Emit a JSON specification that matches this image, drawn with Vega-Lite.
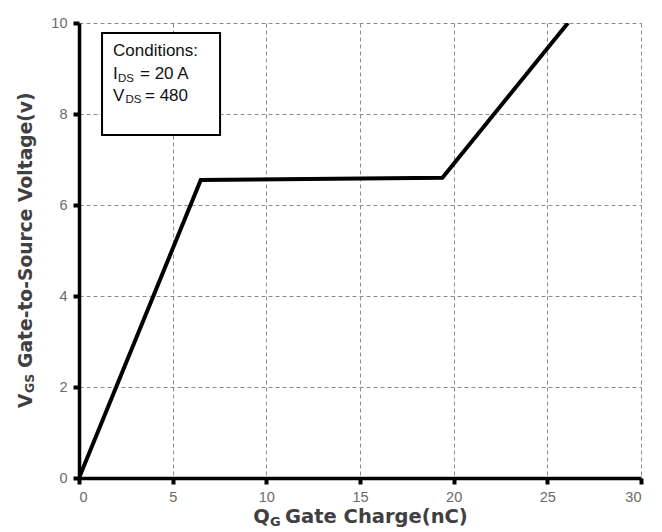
{
  "$schema": "https://vega.github.io/schema/vega-lite/v6.json",
  "autosize": {"type": "none"},
  "padding": {"left": 79, "top": 23, "right": 21, "bottom": 54},
  "width": 562,
  "height": 455,
  "background": "white",
  "config": {"view": {"stroke": null}},
  "encoding": {
    "x": {
      "field": "x", "type": "quantitative",
      "scale": {"domain": [0, 30], "nice": false, "zero": false},
      "axis": {
        "values": [0, 5, 10, 15, 20, 25, 30],
        "title": null,
        "grid": true, "gridDash": [4, 3], "gridColor": "#8c8c8c", "gridWidth": 1,
        "domainColor": "black", "domainWidth": 3.5,
        "tickColor": "black", "tickWidth": 4, "tickSize": 6,
        "labelFont": "Liberation Sans", "labelFontSize": 14.5, "labelColor": "#6a6a6a",
        "labelPadding": 6
      }
    },
    "y": {
      "field": "y", "type": "quantitative",
      "scale": {"domain": [0, 10], "nice": false, "zero": false},
      "axis": {
        "values": [0, 2, 4, 6, 8, 10],
        "title": null,
        "grid": true, "gridDash": [4, 3], "gridColor": "#8c8c8c", "gridWidth": 1,
        "domainColor": "black", "domainWidth": 3.5,
        "tickColor": "black", "tickWidth": 4, "tickSize": 6,
        "labelFont": "Liberation Sans", "labelFontSize": 14.5, "labelColor": "#6a6a6a",
        "labelPadding": 6
      }
    }
  },
  "layer": [
    {
      "data": {"values": [
        {"x": 0, "y": 0},
        {"x": 6.5, "y": 6.55},
        {"x": 19.4, "y": 6.6},
        {"x": 26.1, "y": 10}
      ]},
      "mark": {"type": "line", "color": "black", "strokeWidth": 4, "strokeJoin": "miter", "clip": true},
      "encoding": {}
    },
    {
      "data": {"values": [{"x": 1.23, "x2": 7.53, "y": 9.78, "y2": 7.54}]},
      "mark": {"type": "rect", "fill": "white", "stroke": "black", "strokeWidth": 2},
      "encoding": {"x2": {"field": "x2"}, "y2": {"field": "y2"}}
    },
    {
      "data": {"values": [
        {"t": "Conditions:", "x": 1.815, "y": 9.28},
        {"t": "I", "x": 1.815, "y": 8.77},
        {"t": "= 20 A", "x": 3.257, "y": 8.77},
        {"t": "V", "x": 1.815, "y": 8.29},
        {"t": "= 480", "x": 3.524, "y": 8.29}
      ]},
      "mark": {"type": "text", "font": "Liberation Sans", "fontSize": 17, "color": "#111111", "align": "left", "baseline": "alphabetic"},
      "encoding": {"text": {"field": "t"}}
    },
    {
      "data": {"values": [
        {"t": "DS", "x": 2.08, "y": 8.71},
        {"t": "DS", "x": 2.483, "y": 8.24}
      ]},
      "mark": {"type": "text", "font": "Liberation Sans", "fontSize": 11.5, "color": "#111111", "align": "left", "baseline": "alphabetic"},
      "encoding": {"text": {"field": "t"}}
    },
    {
      "data": {"values": [
        {"t": "Q", "x": 9.3, "y": -0.99},
        {"t": "Gate Charge(nC)", "x": 11.0, "y": -0.99}
      ]},
      "mark": {"type": "text", "font": "DejaVu Sans", "fontWeight": "bold", "fontSize": 19.5, "color": "#404040", "align": "left", "baseline": "alphabetic"},
      "encoding": {"text": {"field": "t"}}
    },
    {
      "data": {"values": [{"t": "G", "x": 10.2, "y": -1.055}]},
      "mark": {"type": "text", "font": "DejaVu Sans", "fontWeight": "bold", "fontSize": 13, "color": "#404040", "align": "left", "baseline": "alphabetic"},
      "encoding": {"text": {"field": "t"}}
    },
    {
      "data": {"values": [
        {"t": "V", "x": -2.51, "y": 1.54},
        {"t": "Gate-to-Source Voltage(v)", "x": -2.51, "y": 2.42}
      ]},
      "mark": {"type": "text", "font": "DejaVu Sans", "fontWeight": "bold", "fontSize": 18.7, "color": "#404040", "align": "left", "baseline": "alphabetic", "angle": 270},
      "encoding": {"text": {"field": "t"}}
    },
    {
      "data": {"values": [{"t": "GS", "x": -2.376, "y": 1.87}]},
      "mark": {"type": "text", "font": "DejaVu Sans", "fontWeight": "bold", "fontSize": 12.5, "color": "#404040", "align": "left", "baseline": "alphabetic", "angle": 270},
      "encoding": {"text": {"field": "t"}}
    }
  ]
}
